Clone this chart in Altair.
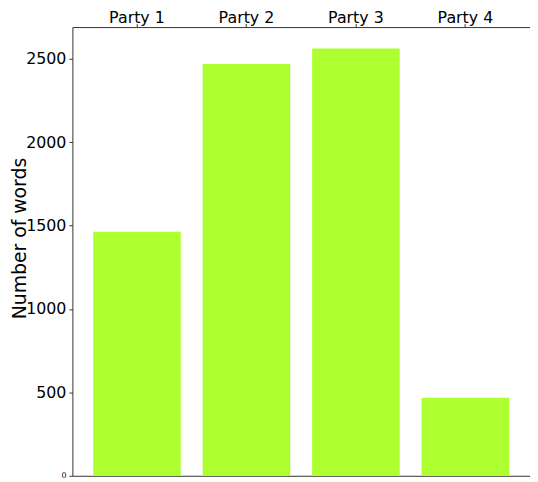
import altair as alt
import pandas as pd

parties = ["Party 1", "Party 2", "Party 3", "Party 4"]
words = [1463, 2468, 2561, 468]
y_ticks = [0, 500, 1000, 1500, 2000, 2500]

df = pd.DataFrame({"party": parties, "words": words})

chart = alt.Chart(df).mark_bar(color="#ADFF2F").encode(
    x=alt.X(
        "party:N",
        sort=parties,
        scale=alt.Scale(paddingInner=0.2, paddingOuter=0.19),
        axis=alt.Axis(
            orient="top", title=None, labelAngle=0, labelFontSize=16,
            labelFont="DejaVu Sans", labelColor="#000", tickSize=3.5,
            tickColor="#333", labelPadding=1.5, labelBaseline="alphabetic",
            domain=False,
        ),
    ),
    y=alt.Y(
        "words:Q",
        scale=alt.Scale(domain=[0, 2690], nice=False),
        axis=alt.Axis(
            title="Number of words", values=y_ticks, grid=False, format="d",
            labelFontSize=alt.ExprRef("datum.value == 0 ? 8 : 16"),
            labelFont="DejaVu Sans", labelColor="#000", tickSize=3.5,
            tickColor="#333", labelPadding=3, domain=False,
            titleFont="DejaVu Sans", titleFontSize=19, titleFontWeight="normal",
            titleColor="#000", titleX=-47, titleY=213, titleAngle=270,
            titleAlign="center", titleBaseline="alphabetic",
        ),
    ),
).properties(
    width=462, height=453,
    autosize=alt.AutoSizeParams(type="none"),
    padding={"left": 65, "top": 17, "right": 0, "bottom": 3},
).configure_view(stroke="#333", strokeWidth=1)

chart.save("out.html", embed_options={"renderer": "svg", "actions": False})
